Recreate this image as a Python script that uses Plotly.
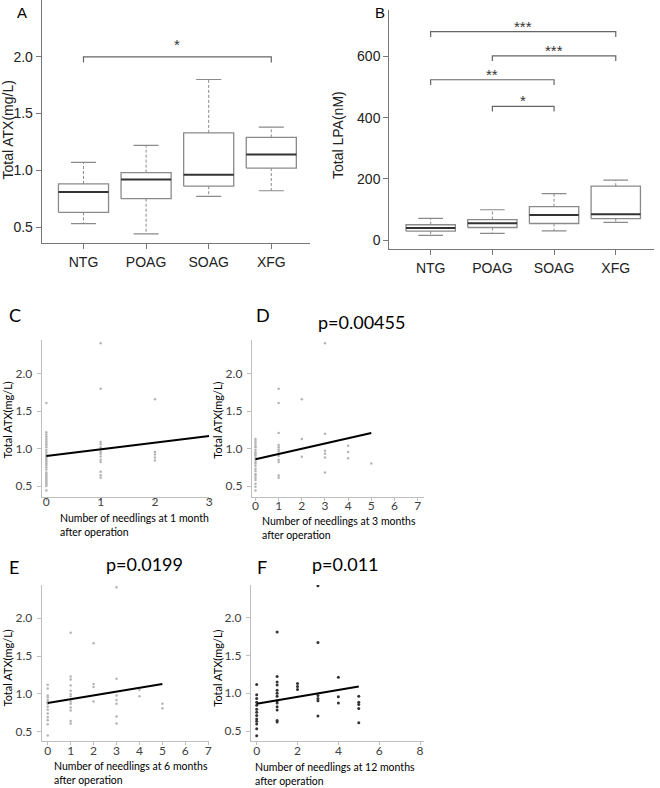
import plotly.graph_objects as go

W, H = 660, 788

# ---- panel A / B : box plot summaries ----
groups = ["NTG", "POAG", "SOAG", "XFG"]

atx_low = [0.53, 0.44, 0.77, 0.82]
atx_q1 = [0.63, 0.75, 0.86, 1.02]
atx_med = [0.81, 0.92, 0.96, 1.14]
atx_q3 = [0.88, 0.98, 1.33, 1.29]
atx_high = [1.07, 1.22, 1.80, 1.38]

lpa_low = [15, 22, 30, 58]
lpa_q1 = [29, 41, 54, 70]
lpa_med = [39, 55, 82, 84]
lpa_q3 = [50, 67, 109, 176]
lpa_high = [71, 99, 152, 196]

# (group from, group to, bracket level, label)
atx_sig = [(1, 4, 2.0, "*")]
lpa_sig = [(1, 4, 681, "***"), (2, 4, 602, "***"), (1, 3, 524, "**"), (2, 3, 437, "*")]

# ---- panels C-F : total ATX by number of needlings ----
c_atx = {
    0: [1.22, 1.19, 1.16, 1.13, 1.10, 1.07, 1.05, 1.02, 0.98, 0.95, 0.92, 0.90, 0.88, 0.86,
        0.84, 0.82, 0.80, 0.78, 0.75, 0.72, 0.68, 0.66, 0.64, 0.62, 0.60, 0.58, 0.56, 0.54,
        0.52, 0.50, 0.44, 1.61],
    1: [1.09, 1.06, 1.02, 0.99, 0.955, 0.93, 0.895, 0.85, 0.82, 0.69, 0.645, 0.61, 1.80, 2.41],
    2: [0.955, 0.92, 0.88, 0.84, 1.66],
}
d_atx = {
    0: [1.13, 1.10, 1.07, 1.04, 1.02, 0.98, 0.95, 0.93, 0.91, 0.88, 0.85, 0.82, 0.80, 0.77,
        0.73, 0.70, 0.66, 0.64, 0.61, 0.58, 0.53, 0.49, 0.44],
    1: [1.21, 1.05, 1.02, 0.99, 0.96, 0.90, 0.85, 0.82, 0.64, 0.61, 1.80, 1.61],
    2: [1.13, 0.89, 1.66],
    3: [2.41, 1.20, 0.97, 0.93, 0.88, 0.68],
    4: [1.04, 0.955, 0.87],
    5: [0.80],
}
e_atx = {
    0: [1.12, 1.07, 0.98, 0.955, 0.92, 0.89, 0.87, 0.83, 0.79, 0.74, 0.69, 0.65, 0.60, 0.45],
    1: [1.81, 1.23, 1.19, 1.11, 1.04, 1.00, 0.97, 0.90, 0.87, 0.82, 0.78, 0.64, 0.61],
    2: [1.67, 1.13, 1.09, 0.90],
    3: [2.41, 1.20, 0.98, 0.92, 0.87, 0.70, 0.61],
    4: [1.05, 0.97],
    5: [0.87, 0.81],
}
f_atx = {
    0: [1.115, 0.98, 0.93, 0.88, 0.84, 0.79, 0.75, 0.705, 0.66, 0.63, 0.595, 0.53, 0.44],
    1: [1.81, 1.22, 1.15, 1.11, 1.04, 1.00, 0.96, 0.90, 0.87, 0.82, 0.78, 0.64, 0.62],
    2: [1.13, 1.09, 1.05],
    3: [2.42, 1.67, 0.97, 0.93, 0.90, 0.70],
    4: [1.21, 0.955, 0.87],
    5: [0.96, 0.88, 0.85, 0.80, 0.61],
}
# fitted line end points (needlings, ATX)
c_fit = ([0, 3], [0.90, 1.17])
d_fit = ([0, 5], [0.857, 1.21])
e_fit = ([0, 5], [0.88, 1.13])
f_fit = ([0, 5], [0.86, 1.09])

p_values = {"d": "p=0.00455", "e": "p=0.0199", "f": "p=0.011"}


def xd(px):
    return px / W


def yd(py):
    return 1 - py / H


fig = go.Figure()

BOXLINE = "#8a8a8a"


def add_boxes(xa, ya, low, q1, med, q3, high):
    bx, by, mx, my, wx, wy, cx, cy = [], [], [], [], [], [], [], []
    for i in range(len(groups)):
        c = i + 1
        bx += [c - .4, c + .4, c + .4, c - .4, c - .4, None]
        by += [q1[i], q1[i], q3[i], q3[i], q1[i], None]
        mx += [c - .4, c + .4, None]
        my += [med[i], med[i], None]
        wx += [c, c, None, c, c, None]
        wy += [q3[i], high[i], None, q1[i], low[i], None]
        cx += [c - .2, c + .2, None, c - .2, c + .2, None]
        cy += [high[i], high[i], None, low[i], low[i], None]
    common = dict(xaxis=xa, yaxis=ya, mode="lines", showlegend=False, hoverinfo="skip")
    fig.add_scatter(x=wx, y=wy, line=dict(color=BOXLINE, width=1, dash="3px,2px"), **common)
    fig.add_scatter(x=cx, y=cy, line=dict(color=BOXLINE, width=1.2), **common)
    fig.add_scatter(x=bx, y=by, line=dict(color=BOXLINE, width=1.3), **common)
    fig.add_scatter(x=mx, y=my, line=dict(color="#333333", width=2), **common)


def add_sig(xa, ya, sig, drop, text_off):
    for a, b, lvl, lab in sig:
        fig.add_scatter(x=[a, a, b, b], y=[lvl - drop, lvl, lvl, lvl - drop], xaxis=xa, yaxis=ya,
                        mode="lines", line=dict(color="#666666", width=1.2),
                        showlegend=False, hoverinfo="skip")
        fig.add_annotation(x=(a + b) / 2, y=lvl + text_off, xref=xa, yref=ya, text=lab,
                           showarrow=False, yanchor="middle",
                           font=dict(family="Liberation Sans", size=15, color="#333333"))


add_boxes("x", "y", atx_low, atx_q1, atx_med, atx_q3, atx_high)
add_sig("x", "y", atx_sig, 0.05, 0.11)
add_boxes("x2", "y2", lpa_low, lpa_q1, lpa_med, lpa_q3, lpa_high)
add_sig("x2", "y2", lpa_sig, 17, 18)


def add_scatter_panel(xa, ya, data, fit, color, size):
    xs, ys = [], []
    for n, vals in data.items():
        xs += [n] * len(vals)
        ys += vals
    fig.add_scatter(x=xs, y=ys, xaxis=xa, yaxis=ya, mode="markers",
                    marker=dict(size=size, color=color), showlegend=False)
    fig.add_scatter(x=fit[0], y=fit[1], xaxis=xa, yaxis=ya, mode="lines",
                    line=dict(color="black", width=2), showlegend=False)


add_scatter_panel("x3", "y3", c_atx, c_fit, "#b4b4b4", 2.5)
add_scatter_panel("x4", "y4", d_atx, d_fit, "#b4b4b4", 2.5)
add_scatter_panel("x5", "y5", e_atx, e_fit, "#b4b4b4", 2.5)
add_scatter_panel("x6", "y6", f_atx, f_fit, "#333333", 3)

# ---- axes ----
rfont = dict(family="Liberation Sans", size=14, color="#222222")
r_x = dict(tickvals=[1, 2, 3, 4], ticktext=groups, showline=True, linecolor="#777777",
           linewidth=1.2, ticks="outside", ticklen=5, tickcolor="#777777", showgrid=False,
           zeroline=False, tickfont=rfont, ticklabelstandoff=1)
r_y = dict(showline=True, linecolor="#777777", linewidth=1.2, ticks="outside", ticklen=5,
           tickcolor="#777777", showgrid=False, zeroline=False, tickfont=rfont,
           ticklabelstandoff=0)

fig.update_layout(
    xaxis=dict(domain=[xd(42), xd(312)], range=[0.333, 4.62], anchor="y", **r_x),
    yaxis=dict(domain=[yd(243), yd(0)], range=[0.36, 2.5], anchor="x",
               tickvals=[0.5, 1.0, 1.5, 2.0], tickformat=".1f", **r_y),
    xaxis2=dict(domain=[xd(391.7), xd(658)], range=[0.33, 4.62], anchor="y2", **r_x),
    yaxis2=dict(domain=[yd(249), yd(10)], range=[-29.3, 752], anchor="x2",
                tickvals=[0, 200, 400, 600], **r_y),
)

efont = dict(family="Lato", size=12, color="#404040")
e_x = dict(showline=True, linecolor="#bfbfbf", linewidth=1, ticks="outside", ticklen=3,
           tickcolor="#bfbfbf", showgrid=False, zeroline=False, tickfont=efont)
e_y = dict(showline=True, linecolor="#bfbfbf", linewidth=1, ticks="outside", ticklen=4,
           tickcolor="#bfbfbf", showgrid=False, zeroline=False, tickfont=efont,
           tickvals=[0.5, 1.0, 1.5, 2.0], tickformat=".1f", ticklabelstandoff=2)

fig.update_layout(
    xaxis3=dict(domain=[xd(42), xd(210.5)], range=[-0.085, 3.0], anchor="y3", dtick=1,
                ticklabelstandoff=-9, **e_x),
    yaxis3=dict(domain=[yd(497), yd(340)], range=[0.353, 2.453], anchor="x3", **e_y),
    xaxis4=dict(domain=[xd(253.3), xd(426.7)], range=[-0.16, 7.28], anchor="y4", dtick=1,
                ticklabelstandoff=-5, **e_x),
    yaxis4=dict(domain=[yd(497), yd(340)], range=[0.353, 2.453], anchor="x4", **e_y),
    xaxis5=dict(domain=[xd(42), xd(210.7)], range=[-0.26, 7.05], anchor="y5", dtick=1,
                ticklabelstandoff=-4, **e_x),
    yaxis5=dict(domain=[yd(740.7), yd(585)], range=[0.381, 2.44], anchor="x5", **e_y),
    xaxis6=dict(domain=[xd(252.3), xd(426.7)], range=[-0.29, 8.2], anchor="y6", dtick=2,
                ticklabelstandoff=-4, **e_x),
    yaxis6=dict(domain=[yd(740.7), yd(585)], range=[0.373, 2.43], anchor="x6", **e_y),
)

# ---- text ----
def note(px, py, text, size, family, angle=0, xanchor="center", align="center", color="black"):
    fig.add_annotation(x=xd(px), y=yd(py), xref="paper", yref="paper", text=text,
                       showarrow=False, textangle=angle, xanchor=xanchor, yanchor="middle",
                       align=align, font=dict(family=family, size=size, color=color))


note(22, 12, "A", 15, "Liberation Sans")
note(382, 12, "B", 15, "Liberation Sans")
note(8.5, 130, "Total ATX(mg/L)", 14, "Liberation Sans", angle=-90, color="#222222")
note(340, 135, "Total LPA(nM)", 14, "Liberation Sans", angle=-90, color="#222222")

note(15, 315, "C", 18, "Lato")
note(265, 315, "D", 18, "Lato")
note(14, 567, "E", 18, "Lato")
note(264, 567, "F", 18, "Lato")

note(364, 322, p_values["d"], 18, "Lato")
note(145, 564, p_values["e"], 18, "Lato")
note(348, 564, p_values["f"], 18, "Lato")

for px, py in [(7.5, 420), (218, 420), (7.5, 668), (218, 668)]:
    note(px, py, "Total ATX(mg/L)", 11, "Lato", angle=-90)

xt = [(58, 525, "1 month"), (262, 528, "3 months"), (52, 773, "6 months"), (255, 774, "12 months")]
for px, py, when in xt:
    note(px, py, "Number of needlings at " + when + "<br>after operation", 10.5, "Lato",
         xanchor="left", align="left")

fig.update_layout(width=W, height=H, margin=dict(l=0, r=0, t=0, b=0),
                  plot_bgcolor="white", paper_bgcolor="white", showlegend=False)

fig.write_html("out.html", config={"displayModeBar": False},
               post_script="document.body.style.margin='0px';")
